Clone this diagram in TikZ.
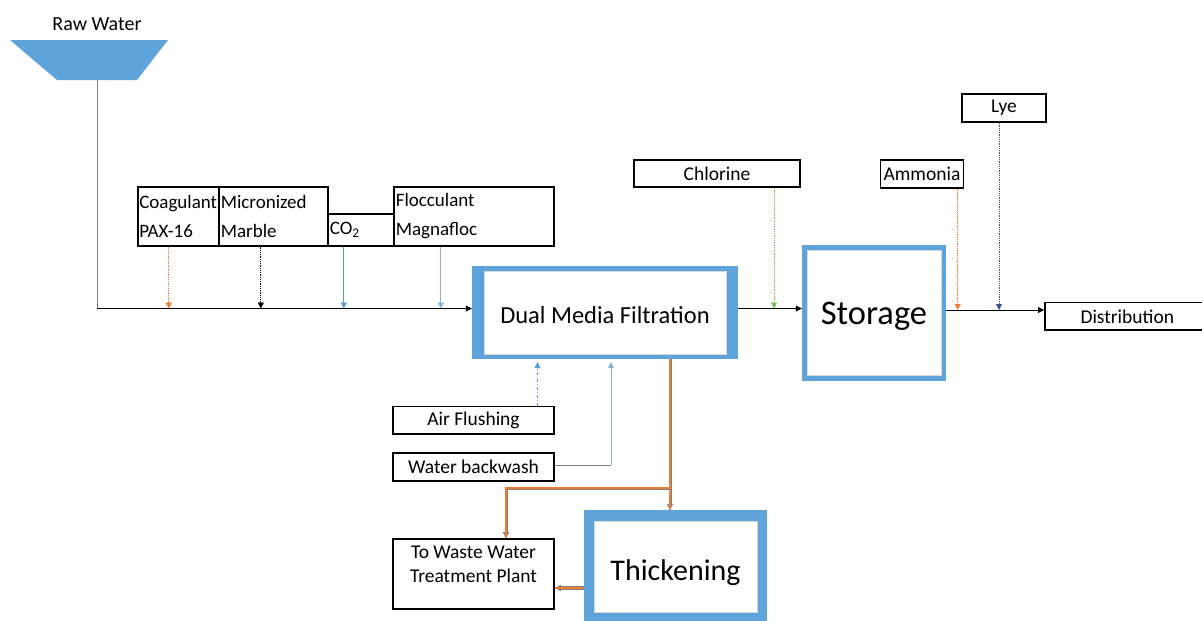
\documentclass[tikz,border=0pt]{standalone}
\usepackage{fontspec}
\setmainfont{Carlito}
\usepackage{tikz}
\usetikzlibrary{arrows.meta}
\definecolor{boxblue}{RGB}{94,163,218}
\definecolor{feedorange}{RGB}{237,125,49}
\definecolor{feedblue}{RGB}{91,155,213}
\definecolor{lightfeed}{RGB}{130,180,226}
\definecolor{feedgreen}{RGB}{112,190,80}
\definecolor{lyeblue}{RGB}{60,80,140}

\begin{document}
\begin{tikzpicture}[x=1pt, y=-1pt,
        tip/.style={-{Triangle[length=6pt,width=6pt]}},
        feed/.style={tip, line width=0.8pt},
        chem/.style={draw, line width=1.6pt, inner sep=2pt, font=\fontsize{19}{29}\selectfont},
        plain/.style={draw, line width=1.6pt, inner sep=2pt, font=\fontsize{19.5}{24}\selectfont},
        stage/.style 2 args={fill=boxblue, inner sep=0pt, text depth=0pt,
            path picture={\filldraw[white, draw=black!15] ([xshift=#1pt,yshift=#2pt]path picture bounding box.south west) rectangle ([xshift=-#1pt,yshift=-#2pt]path picture bounding box.north east);}},
        sludge/.style={tip, draw=gray, line width=3pt, postaction={draw=feedorange, line width=1.1pt, -}}
    ]
    \useasboundingbox (0,0) rectangle (1202,621);

    \node[font=\fontsize{20}{24}\selectfont] (rawlbl) at (97,24) {Raw Water};
    \fill[boxblue] (10,40) -- (168,40) -- (137,80) -- (57,80) -- cycle;
    \coordinate (rawout) at (97,80);
    \coordinate (junc) at (97,308.5);

    \node[chem, anchor=north west, minimum width=81pt, minimum height=59pt, text width=78pt, align=left, inner sep=1.5pt] (coag) at (137,186) {Coagulant\\PAX-16};
    \node[chem, anchor=north west, minimum width=109pt, minimum height=59pt, text width=105pt, align=left] (marble) at (218,186) {Micronized\\Marble};
    \node[chem, anchor=north west, minimum width=66pt, minimum height=32pt, text width=62pt, align=left] (co2) at (327,213) {CO\textsubscript{2}};
    \node[chem, anchor=north west, minimum width=160pt, minimum height=59pt, text width=156pt, align=left] (floc) at (393,186) {Flocculant\\Magnafloc};

    \node[stage={12}{5}, minimum width=266pt, minimum height=93pt, text height=21pt, font=\fontsize{24.5}{28}\selectfont] (dmf) at (605,312.5) {Dual Media Filtration};
    \node[stage={5}{5.5}, minimum width=144pt, minimum height=136pt, text height=22pt, font=\fontsize{34.5}{40}\selectfont] (storage) at (874,313) {Storage};
    \node[stage={10}{11.5}, minimum width=183pt, minimum height=114pt, text height=26pt, font=\fontsize{30}{36}\selectfont] (thick) at (675.5,567) {Thickening};

    \node[plain, minimum width=166pt, minimum height=27pt] (chlorine) at (717,173.5) {Chlorine};
    \node[plain, minimum width=83pt, minimum height=28pt, inner sep=1pt] (ammonia) at (922,173.8) {Ammonia};
    \node[plain, minimum width=84pt, minimum height=28pt] (lye) at (1004,108) {Lye};
    \node[plain, anchor=west, minimum width=165pt, minimum height=27.5pt] (dist) at (1044,316.4) {Distribution};

    \node[plain, minimum width=161pt, minimum height=27.5pt] (air) at (473.5,420.3) {Air Flushing};
    \node[plain, minimum width=161pt, minimum height=28pt] (wash) at (473.5,467) {Water backwash};
    \node[plain, minimum width=161pt, align=center, inner sep=4pt, text height=39pt, text depth=23pt] (waste) at (473.5,574) {To Waste Water\\Treatment Plant};

    \draw[gray, line width=0.8pt] (rawout) -- (junc);
    \draw[feed] (junc) -- (junc -| dmf.west);
    \draw[feed, feedorange, densely dotted] ([xshift=-9.5pt]coag.south) -- ([xshift=-9.5pt]coag.south |- junc);
    \draw[feed, densely dotted] ([xshift=-12.5pt]marble.south) -- ([xshift=-12.5pt]marble.south |- junc);
    \draw[feed, feedblue] ([xshift=-17pt]co2.south) -- ([xshift=-17pt]co2.south |- junc);
    \draw[feed, lightfeed] ([xshift=-33pt]floc.south) -- ([xshift=-33pt]floc.south |- junc);

    \draw[feed] (dmf.east |- junc) -- (storage.west |- junc);
    \draw[feed, feedgreen, densely dotted] ([xshift=57pt]chlorine.south) -- ([xshift=57pt]chlorine.south |- junc);
    \coordinate (outline) at (storage.east |- 0,310);
    \draw[feed] (outline) -- (outline -| dist.west);
    \draw[feed, feedorange, densely dotted] ([xshift=35.7pt]ammonia.south) -- ([xshift=35.7pt]ammonia.south |- outline);
    \draw[feed, lyeblue, densely dotted] ([xshift=-5pt]lye.south) -- ([xshift=-5pt]lye.south |- outline);

    \draw[feed, feedblue, dash dot, shorten >=3pt] ([xshift=64pt]air.north) -- ([xshift=64pt]air.north |- dmf.south);
    \coordinate (bend) at (611,465);
    \draw[gray, line width=0.7pt] (wash.east |- bend) -- (bend);
    \draw[feed, lightfeed, shorten >=3pt] (bend) -- (bend |- dmf.south);

    \coordinate (split) at ([xshift=65pt]dmf.south |- 0,488);
    \draw[sludge] ([xshift=65pt]dmf.south) -- ([xshift=65pt]dmf.south |- thick.north);
    \draw[sludge] (split) -| ([xshift=32.5pt]waste.north);
    \draw[tip, draw=gray, line width=4.5pt, postaction={draw=feedorange, line width=2.5pt, -}] ([yshift=-21pt]thick.west) -- ([yshift=-21pt]thick.west -| waste.east);
\end{tikzpicture}
\end{document}
